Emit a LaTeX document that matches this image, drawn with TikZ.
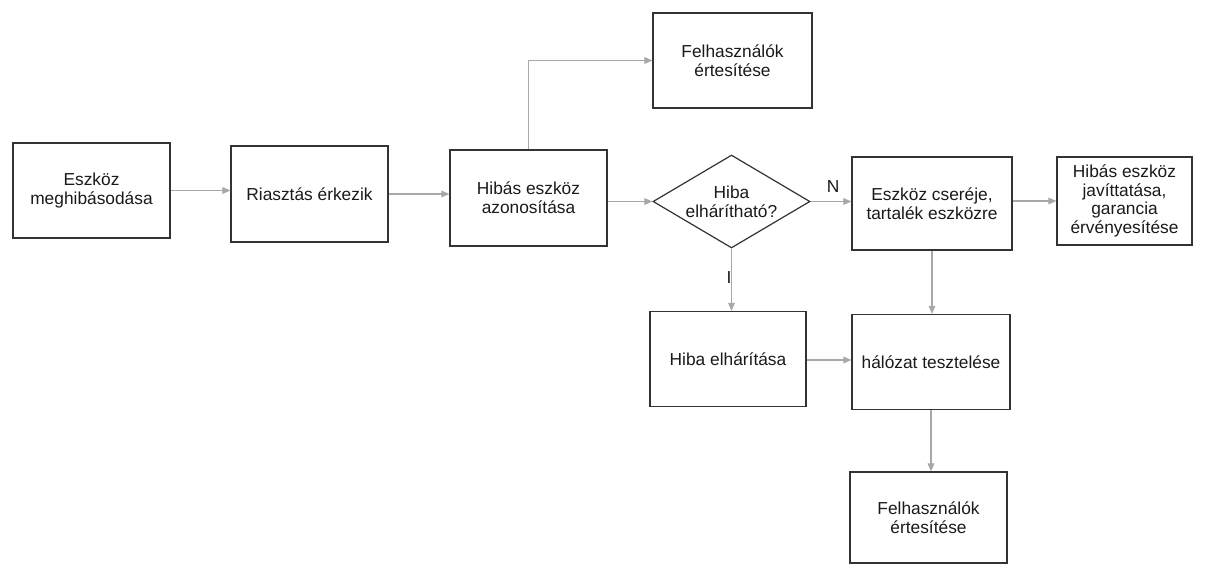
\documentclass[tikz,border=0pt]{standalone}
\usepackage{fontspec}
\setmainfont{Liberation Sans}
\usetikzlibrary{shapes.geometric,arrows.meta}
\definecolor{boxline}{HTML}{333333}
\definecolor{conn}{HTML}{A8A8A8}
\definecolor{txt}{HTML}{1A1A1A}
\tikzset{
  px/.style={x=0.75pt,y=-0.75pt},
  box/.style={draw=boxline, line width=0.9pt, rectangle, inner sep=2pt, align=center,
     text=txt, font=\fontsize{13}{14}\selectfont},
  dia/.style={draw=boxline, line width=0.9pt, diamond, inner sep=0pt},
  lbl/.style={text=txt, font=\fontsize{13}{14}\selectfont, align=center, inner sep=0pt},
  conn/.style={draw=conn, line width=0.8pt, -{Triangle[length=6pt,width=5pt]}, color=conn},
}
\begin{document}
\begin{tikzpicture}[px]
\useasboundingbox (0,0) rectangle (1213,565);
\fill[white] (0,0) rectangle (1213,565);
% boxes
\node[box, minimum width=157*0.75pt, minimum height=95*0.75pt] (n1) at (91.5,190.5) {Eszköz\\meghibásodása};
\node[box, minimum width=157*0.75pt, minimum height=96*0.75pt] (n2) at (309.5,194) {Riasztás érkezik};
\node[box, minimum width=157*0.75pt, minimum height=96*0.75pt] (n3) at (528.5,198) {Hibás eszköz\\azonosítása};
\node[box, minimum width=159*0.75pt, minimum height=95*0.75pt] (top) at (732.5,60.5) {Felhasználók\\értesítése};
\node[dia, minimum width=157*0.75pt, minimum height=93*0.75pt] (d) at (731.5,201.5) {};
\node[lbl] (dt) at (731.5,202) {Hiba\\elhárítható?};
\node[box, minimum width=160*0.75pt, minimum height=93*0.75pt] (cs) at (932,203.5) {Eszköz cseréje,\\tartalék eszközre};
\node[box, minimum width=135*0.75pt, minimum height=88*0.75pt] (rb) at (1124.5,201) {Hibás eszköz\\javíttatása,\\garancia\\érvényesítése};
\node[box, minimum width=156*0.75pt, minimum height=95*0.75pt] (he) at (728,359) {Hiba elhárítása};
\node[box, minimum width=158*0.75pt, minimum height=95*0.75pt] (ht) at (931,362) {hálózat tesztelése};
\node[box, minimum width=157*0.75pt, minimum height=91*0.75pt] (bt) at (928.5,517.5) {Felhasználók\\értesítése};
% connectors
\draw[conn] (n1.east) -- (n2.west |- n1.east);
\draw[conn] (n2.east) -- (n3.west |- n2.east);
\draw[conn] (n3.east |- d.west) -- (d.west);
\draw[conn] (n3.north) |- (top.west);
\draw[conn] (d.east) -- (cs.west |- d.east);
\draw[conn] (d.south) -- (he.north -| d.south);
\draw[conn] (cs.east |- rb.west) -- (rb.west);
\draw[conn] (cs.south) -- (ht.north -| cs.south);
\draw[conn] (he.east |- 0,360) -- (ht.west |- 0,360);
\draw[conn] (ht.south) -- (bt.north -| ht.south);
% labels
\node[lbl] (lN) at (833,187) {N};
\node[lbl] (lI) at (729,278) {I};
\end{tikzpicture}
\end{document}
